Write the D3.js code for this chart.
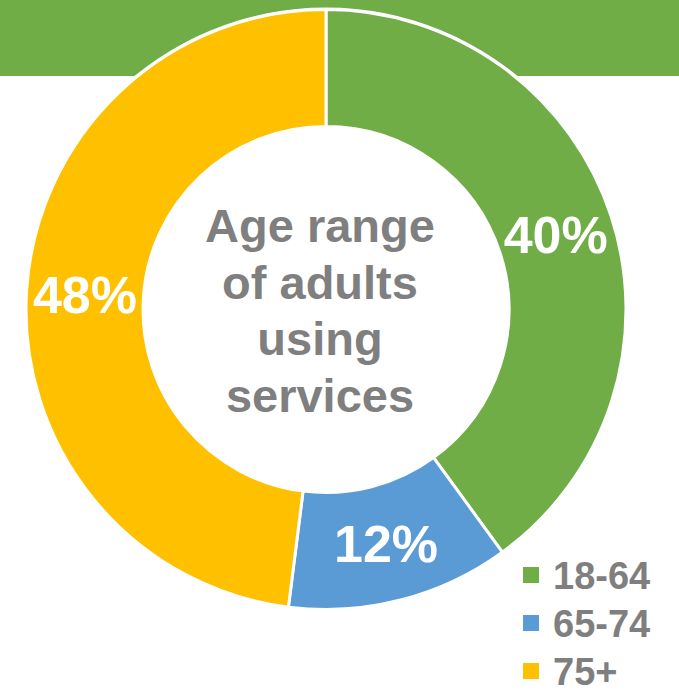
<!DOCTYPE html>
<html>
<head>
<meta charset="utf-8">
<script src="https://cdn.jsdelivr.net/npm/d3@7/dist/d3.min.js"></script>
<style>
html, body { margin: 0; padding: 0; background: #ffffff; }
svg { display: block; }
</style>
</head>
<body>
<script>
const categories = ["18-64", "65-74", "75+"];
const values = [40, 12, 48];
const labels = ["40%", "12%", "48%"];
const colors = ["#70AD47", "#5B9BD5", "#FFC000"];
const centerTitle = ["Age range", "of adults", "using", "services"];

const W = 679, H = 694;
const cx = 326, cy = 309.5, rOuter = 300, rInner = 183;

const svg = d3.select("body").append("svg").attr("width", W).attr("height", H);

// green banner
svg.append("rect").attr("x", 0).attr("y", 0).attr("width", W).attr("height", 76).attr("fill", "#70AD47");

const g = svg.append("g").attr("transform", `translate(${cx},${cy})`);

g.append("circle").attr("r", rOuter + 2).attr("fill", "#ffffff");

const pie = d3.pie().sort(null).value(d => d)(values);
const arc = d3.arc().innerRadius(rInner).outerRadius(rOuter);
const labelArc = d3.arc().innerRadius((rInner + rOuter) / 2).outerRadius((rInner + rOuter) / 2);

g.selectAll("path.slice").data(pie).enter().append("path")
  .attr("class", "slice")
  .attr("d", arc)
  .attr("fill", (d, i) => colors[i])
  .attr("stroke", "#ffffff")
  .attr("stroke-width", 3)
  .attr("stroke-linejoin", "round");

g.selectAll("text.pct").data(pie).enter().append("text")
  .attr("class", "pct")
  .attr("transform", d => `translate(${labelArc.centroid(d)})`)
  .attr("text-anchor", "middle")
  .attr("dy", "0.358em")
  .attr("font-family", "'Liberation Sans', Arial, sans-serif")
  .attr("font-weight", "bold")
  .attr("font-size", 52)
  .attr("fill", "#ffffff")
  .text((d, i) => labels[i]);

// center title
const titleBaselines = [242, 298.5, 355, 411.5];
svg.selectAll("text.title").data(centerTitle).enter().append("text")
  .attr("class", "title")
  .attr("x", 320)
  .attr("y", (d, i) => titleBaselines[i])
  .attr("text-anchor", "middle")
  .attr("font-family", "'Liberation Sans', Arial, sans-serif")
  .attr("font-weight", "bold")
  .attr("font-size", 47)
  .attr("fill", "#7F7F7F")
  .text(d => d);

// legend
const legY = d3.scalePoint().domain(categories).range([575, 671]);
const leg = svg.selectAll("g.leg").data(categories).enter().append("g")
  .attr("class", "leg")
  .attr("transform", d => `translate(523,${legY(d)})`);
leg.append("rect").attr("x", 0).attr("y", -8).attr("width", 16).attr("height", 16)
  .attr("fill", (d, i) => colors[i]);
leg.append("text").attr("x", 30).attr("y", 0).attr("dy", "0.358em")
  .attr("font-family", "'Liberation Sans', Arial, sans-serif")
  .attr("font-weight", "bold")
  .attr("font-size", 38)
  .attr("fill", "#7F7F7F")
  .text(d => d);
</script>
</body>
</html>
